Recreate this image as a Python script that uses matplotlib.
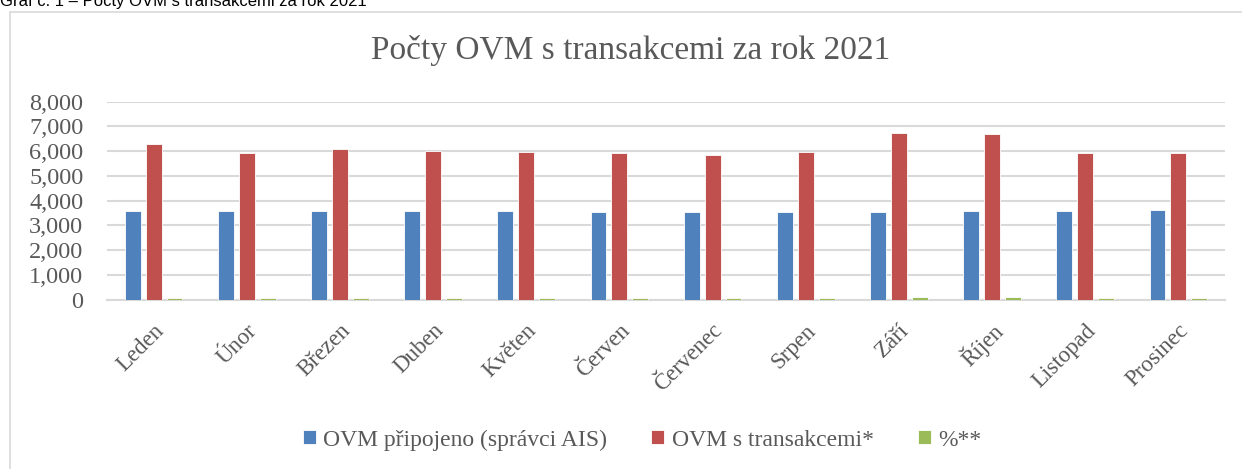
import matplotlib.pyplot as plt
from matplotlib.patches import Rectangle
from matplotlib.transforms import ScaledTranslation
import numpy as np

plt.rcParams["font.family"] = ["Liberation Serif", "DejaVu Serif"]

# Data
months = ["Leden", "Únor", "Březen", "Duben", "Květen", "Červen",
          "Červenec", "Srpen", "Září", "Říjen", "Listopad", "Prosinec"]
pripojeno = [3590, 3590, 3590, 3590, 3600, 3560, 3560, 3530, 3560, 3570, 3600, 3620]
s_transakcemi = [6290, 5940, 6090, 5990, 5980, 5930, 5850, 5980, 6720, 6700, 5940, 5920]
procenta = [57, 57, 57, 57, 57, 57, 57, 57, 100, 100, 57, 57]

text_color = "#595959"
grid_color = "#d9d9d9"

fig = plt.figure(figsize=(12.42, 4.69), dpi=100)

# Outer chart border and the caption above it (cut off at the top, as in the source)
fig.patches.append(Rectangle((10 / 1242, -0.01), 1.0, 1 - 12 / 469 + 0.01,
                             transform=fig.transFigure, fill=False,
                             edgecolor=grid_color, linewidth=1.2))
fig.text(0.0, 1 - 6 / 469, "Graf č. 1 – Počty OVM s transakcemi za rok 2021",
         family="Liberation Sans", fontsize=12, va="baseline", ha="left")

ax = fig.add_axes([107 / 1242, 1 - 299.7 / 469, (1225 - 107) / 1242, (299.7 - 101.7) / 469])

x = np.arange(len(months))
width = 0.17
step = 0.225
ax.bar(x - step, pripojeno, width, color="#4f81bd", edgecolor="white", linewidth=0.6,
       label="OVM připojeno (správci AIS)", zorder=3)
ax.bar(x, s_transakcemi, width, color="#c0504d", edgecolor="white", linewidth=0.6,
       label="OVM s transakcemi*", zorder=3)
ax.bar(x + step, procenta, width, color="#9bbb59", edgecolor="white", linewidth=0.6,
       label="%**", zorder=3)

ax.set_xlim(-0.5, len(months) - 0.5)
ax.set_ylim(0, 8000)
ax.set_yticks(range(0, 8001, 1000))
ax.set_yticklabels([f"{v:,}" for v in range(0, 8001, 1000)])
ax.yaxis.grid(True, color=grid_color, linewidth=1.5, zorder=0)
ax.set_axisbelow(True)

for side in ["top", "right", "left"]:
    ax.spines[side].set_visible(False)
ax.spines["bottom"].set_color(grid_color)
ax.spines["bottom"].set_linewidth(1.5)

ax.set_xticks(x)
ax.set_xticklabels(months, rotation=45, ha="right", va="center", rotation_mode="anchor")
ax.tick_params(axis="x", length=0, pad=20, labelsize=16.5, colors=text_color)
ax.tick_params(axis="y", length=0, pad=17, labelsize=17.5, colors=text_color)

# nudge the rotated month labels a bit to the right
shift = ScaledTranslation(7 / 100, 0, fig.dpi_scale_trans)
for lbl in ax.get_xticklabels():
    lbl.set_transform(lbl.get_transform() + shift)

fig.text(0.508, 1 - 50 / 469, "Počty OVM s transakcemi za rok 2021",
         fontsize=24, color=text_color, ha="center", va="center")

fig.legend(loc="center", bbox_to_anchor=(0.517, 1 - 440 / 469), ncol=3, frameon=False,
           fontsize=17, labelcolor=text_color, handlelength=0.55, handleheight=0.55,
           handletextpad=0.3, columnspacing=1.9)

plt.savefig("out.png", dpi=100)
